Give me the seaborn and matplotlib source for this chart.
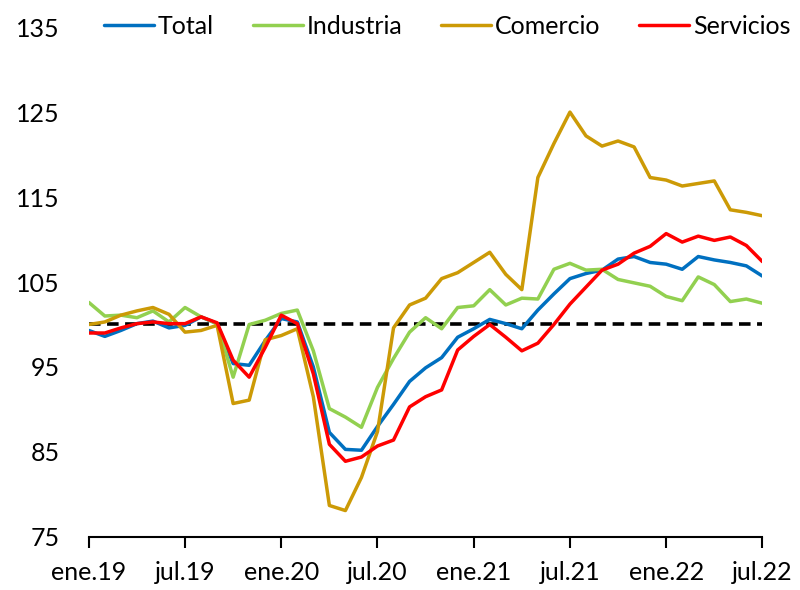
import numpy as np
import pandas as pd
import matplotlib
matplotlib.use('Agg')
import matplotlib.pyplot as plt
import seaborn as sns

# indices mensuales ene.19 - jul.22 (base = 100)
total = [99.3, 98.6, 99.3, 100.1, 100.4, 99.6, 99.9, 100.9, 100.1, 95.4, 95.2,
         98.1, 100.7, 100.3, 95.0, 87.3, 85.3, 85.2, 88.0, 90.6, 93.3, 94.9,
         96.1, 98.5, 99.5, 100.6, 100.1, 99.5, 101.7, 103.6, 105.4, 106.0,
         106.4, 107.7, 108.0, 107.3, 107.1, 106.5, 108.0, 107.6, 107.3, 106.9, 105.7]
industria = [102.6, 101.0, 101.1, 100.8, 101.6, 100.3, 102.0, 100.9, 100.1, 93.8, 100.0,
             100.5, 101.3, 101.7, 96.9, 90.1, 89.1, 87.9, 92.6, 96.0, 99.1, 100.8,
             99.5, 102.0, 102.2, 104.1, 102.3, 103.1, 103.0, 106.5, 107.2, 106.4,
             106.5, 105.3, 104.9, 104.5, 103.3, 102.8, 105.6, 104.7, 102.7, 103.0, 102.5]
comercio = [100.0, 100.3, 101.1, 101.6, 102.0, 101.2, 99.1, 99.3, 99.9, 90.7, 91.1,
            98.2, 98.7, 99.5, 91.5, 78.7, 78.1, 82.0, 87.4, 99.6, 102.3, 103.1,
            105.4, 106.1, 107.3, 108.5, 105.9, 104.1, 117.3, 121.3, 125.0, 122.2,
            121.0, 121.6, 120.9, 117.3, 117.0, 116.3, 116.6, 116.9, 113.5, 113.2, 112.8]
servicios = [99.0, 99.0, 99.6, 100.1, 100.3, 100.1, 100.1, 100.9, 100.2, 95.8, 93.8,
             97.3, 101.1, 100.1, 94.2, 85.9, 83.9, 84.4, 85.7, 86.4, 90.3, 91.5,
             92.3, 97.0, 98.6, 100.0, 98.5, 96.9, 97.8, 100.0, 102.4, 104.4,
             106.4, 107.1, 108.4, 109.2, 110.7, 109.7, 110.4, 109.9, 110.3, 109.3, 107.4]

series = ['Total', 'Industria', 'Comercio', 'Servicios']
colores = ['#0070C0', '#92D050', '#CC9A06', '#FF0000']
tick_labels = ['ene.19', 'jul.19', 'ene.20', 'jul.20', 'ene.21', 'jul.21', 'ene.22', 'jul.22']
y_ticks = [75, 85, 95, 105, 115, 125, 135]
base = 100

mes = np.arange(len(total))
df = pd.DataFrame({'mes': mes, 'Total': total, 'Industria': industria,
                   'Comercio': comercio, 'Servicios': servicios})
df_long = df.melt(id_vars='mes', var_name='serie', value_name='indice')

sns.set_style('white')
plt.rcParams['font.family'] = ['Lato', 'DejaVu Sans']
plt.rcParams['text.color'] = 'black'
plt.rcParams['xtick.color'] = 'black'
plt.rcParams['ytick.color'] = 'black'

fig = plt.figure(figsize=(8, 5.9), dpi=100)
ax = fig.add_axes([0.111, 0.09, 0.842, 0.864])

ax.axhline(base, color='black', lw=2.6, ls=(0, (3.2, 1.8)), zorder=1)
sns.lineplot(data=df_long, x='mes', y='indice', hue='serie', hue_order=series,
             palette=colores, linewidth=2.5, ax=ax, zorder=3)

ax.set_xlim(0, len(total) - 1)
ax.set_ylim(75, 135)
ax.set_yticks(y_ticks)
ax.set_xticks(np.arange(0, len(total), 6))
ax.set_xticklabels(tick_labels)
ax.set_xlabel('')
ax.set_ylabel('')

for s in ['top', 'right', 'left']:
    ax.spines[s].set_visible(False)
ax.spines['bottom'].set_color('black')
ax.spines['bottom'].set_linewidth(1.5)
ax.tick_params(axis='x', direction='out', length=8, width=1.5, color='black',
               labelsize=18, labelcolor='black', pad=9, bottom=True)
ax.tick_params(axis='y', length=0, labelsize=18, labelcolor='black', pad=21)

leg = ax.legend(loc='center', bbox_to_anchor=(0.559, 0.955), bbox_transform=fig.transFigure,
                ncol=4, frameon=False, fontsize=18, handlelength=2.0, handletextpad=0.15,
                columnspacing=1.55, borderaxespad=0)
for t in leg.get_texts():
    t.set_color('black')

plt.savefig('out.png', dpi=100)
